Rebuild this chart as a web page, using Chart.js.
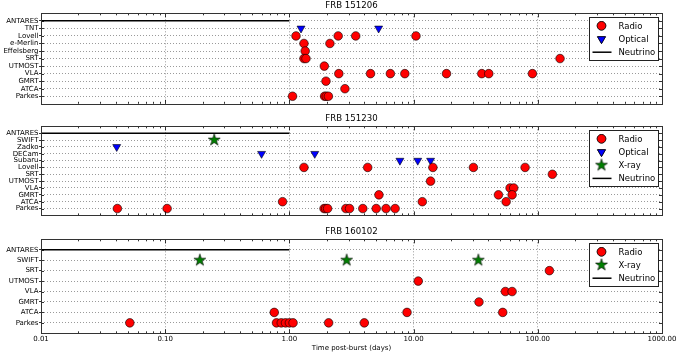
<!DOCTYPE html>
<html><head><meta charset="utf-8">
<script src="https://cdn.jsdelivr.net/npm/chart.js@4.4.1/dist/chart.umd.min.js"></script>
<style>
html,body{margin:0;padding:0;background:#fff;}
body{width:680px;height:357px;position:relative;overflow:hidden;}
.p{position:absolute;left:0;}
canvas{display:block;}
</style></head><body>
<div class="p" style="top:0px"><canvas id="c1" width="680" height="109"></canvas></div>
<div class="p" style="top:113px"><canvas id="c2" width="680" height="109"></canvas></div>
<div class="p" style="top:226px"><canvas id="c3" width="680" height="131"></canvas></div>
<script>
// ---------------- DATA ----------------
const xTickValues = [0.01, 0.1, 1, 10, 100, 1000];
const xTitle = 'Time post-burst (days)';
const neutrinoWindow = [0.01, 1.0];   // ANTARES window (days)

// FRB 151206
const p1Title = 'FRB 151206';
const p1Cats = ['ANTARES','TNT','Lovell','e-Merlin','Effelsberg','SRT','UTMOST','VLA','GMRT','ATCA','Parkes'];
const p1Radio = [
  ['Lovell',1.13],['Lovell',2.47],['Lovell',3.42],['Lovell',10.45],
  ['e-Merlin',1.31],['e-Merlin',2.12],
  ['Effelsberg',1.34],
  ['SRT',1.31],['SRT',1.36],['SRT',151],
  ['UTMOST',1.91],
  ['VLA',2.5],['VLA',4.5],['VLA',6.5],['VLA',8.5],['VLA',18.4],['VLA',35.4],['VLA',40.3],['VLA',90.5],
  ['GMRT',1.97],
  ['ATCA',2.80],
  ['Parkes',1.06],['Parkes',1.92],['Parkes',1.98],['Parkes',2.06]
];
const p1Optical = [['TNT',1.24],['TNT',5.23]];

// FRB 151230
const p2Title = 'FRB 151230';
const p2Cats = ['ANTARES','SWIFT','Zadko','DECam','Subaru','Lovell','SRT','UTMOST','VLA','GMRT','ATCA','Parkes'];
const p2Radio = [
  ['Lovell',1.31],['Lovell',4.27],['Lovell',14.3],['Lovell',30.3],['Lovell',79],
  ['SRT',131],
  ['UTMOST',13.7],
  ['VLA',59.8],['VLA',64],
  ['GMRT',5.26],['GMRT',48.2],['GMRT',62.1],
  ['ATCA',0.881],['ATCA',11.75],['ATCA',55.6],
  ['Parkes',0.0412],['Parkes',0.1036],['Parkes',1.90],['Parkes',1.96],['Parkes',2.03],
  ['Parkes',2.85],['Parkes',3.05],['Parkes',3.9],['Parkes',5.0],['Parkes',6.0],['Parkes',7.1]
];
const p2Optical = [['Zadko',0.0407],['DECam',0.597],['DECam',1.60],['Subaru',7.76],['Subaru',10.8],['Subaru',13.7]];
const p2Xray = [['SWIFT',0.248]];

// FRB 160102
const p3Title = 'FRB 160102';
const p3Cats = ['ANTARES','SWIFT','SRT','UTMOST','VLA','GMRT','ATCA','Parkes'];
const p3Radio = [
  ['SRT',124],
  ['UTMOST',10.9],
  ['VLA',54.8],['VLA',62.1],
  ['GMRT',33.6],
  ['ATCA',0.755],['ATCA',8.85],['ATCA',52.2],
  ['Parkes',0.0519],['Parkes',0.787],['Parkes',0.86],['Parkes',0.93],['Parkes',1.0],['Parkes',1.07],
  ['Parkes',2.07],['Parkes',4.01]
];
const p3Xray = [['SWIFT',0.190],['SWIFT',2.89],['SWIFT',33.2]];

// ---------------- STYLE ----------------
const FONT = '"DejaVu Sans", Verdana, sans-serif';
Chart.defaults.font.family = FONT;
Chart.defaults.color = '#000';
const RED = '#ff0000', BLUE = '#0000ff', GREEN = '#008000';

function makeStar(R) {
  const s = Math.ceil(R * 2 + 3);
  const c = document.createElement('canvas');
  c.width = c.height = s;
  const g = c.getContext('2d');
  const cx = s / 2, cy = s / 2, r = R * 0.381966;
  g.beginPath();
  for (let i = 0; i < 10; i++) {
    const a = -Math.PI / 2 + i * Math.PI / 5;
    const rr = i % 2 ? r : R;
    const px = cx + rr * Math.cos(a), py = cy + rr * Math.sin(a);
    i ? g.lineTo(px, py) : g.moveTo(px, py);
  }
  g.closePath();
  g.fillStyle = GREEN; g.fill();
  g.lineWidth = 0.6; g.strokeStyle = '#000'; g.stroke();
  return c;
}
const STAR = makeStar(6.3);

const STYLES = {
  Radio:   {pointStyle:'circle', pointRadius:4.3, pointBackgroundColor:RED, pointBorderColor:'#000', pointBorderWidth:0.6},
  Optical: {pointStyle:'triangle', pointRotation:180, pointRadius:4.6, pointBackgroundColor:BLUE, pointBorderColor:'#000', pointBorderWidth:0.6},
  'X-ray': {pointStyle:STAR, pointRadius:6, pointBackgroundColor:GREEN, pointBorderColor:'#000', pointBorderWidth:0.6}
};

function toPoints(pairs, cats) {
  return pairs.map(([tel, d]) => ({x: d, y: cats.indexOf(tel)}));
}

// legend box drawn inside the axes (matplotlib style)
function drawLegendMarker(ctx, kind, x, y) {
  ctx.save();
  if (kind === 'Neutrino') {
    ctx.strokeStyle = '#000'; ctx.lineWidth = 1.5;
    ctx.beginPath(); ctx.moveTo(x - 9, y); ctx.lineTo(x + 10, y); ctx.stroke();
  } else if (kind === 'X-ray') {
    ctx.drawImage(STAR, x - STAR.width / 2, y - STAR.height / 2);
  } else {
    const st = STYLES[kind];
    Chart.helpers.drawPoint(ctx, {pointStyle: st.pointStyle, rotation: st.pointRotation || 0,
      radius: st.pointRadius, borderWidth: st.pointBorderWidth}, x, y);
    ctx.fillStyle = st.pointBackgroundColor; ctx.strokeStyle = st.pointBorderColor;
    ctx.lineWidth = st.pointBorderWidth;
    ctx.beginPath();
    if (st.pointStyle === 'circle') {
      ctx.arc(x, y, st.pointRadius, 0, Math.PI * 2);
    } else {
      const R = st.pointRadius;
      for (let i = 0; i < 3; i++) {
        const a = Math.PI / 2 + i * 2 * Math.PI / 3;
        const px = x + R * Math.cos(a), py = y + R * Math.sin(a);
        i ? ctx.lineTo(px, py) : ctx.moveTo(px, py);
      }
      ctx.closePath();
    }
    ctx.fill(); ctx.stroke();
  }
  ctx.restore();
}

function framePlugin(cats, entries) {
  return {
    id: 'frameAndLegend',
    afterDatasetsDraw(chart) {
      const {ctx, chartArea: a, scales: {x, y}} = chart;
      ctx.save();
      // inward ticks
      ctx.strokeStyle = '#000'; ctx.lineWidth = 0.8;
      ctx.beginPath();
      for (let d = 0.01; d < 1000; d *= 10) {
        for (let k = 1; k <= 9; k++) {
          const v = +(k * d).toPrecision(3);
          const px = Math.round(x.getPixelForValue(v)) + 0.5;
          const L = k === 1 ? 4 : 2;
          ctx.moveTo(px, a.bottom); ctx.lineTo(px, a.bottom - L);
          ctx.moveTo(px, a.top); ctx.lineTo(px, a.top + L);
        }
      }
      cats.forEach((c, i) => {
        const py = Math.round(y.getPixelForValue(i)) + 0.5;
        ctx.moveTo(a.left, py); ctx.lineTo(a.left + 3, py);
        ctx.moveTo(a.right, py); ctx.lineTo(a.right - 3, py);
      });
      ctx.stroke();
      // frame
      ctx.strokeStyle = '#333'; ctx.lineWidth = 1;
      ctx.strokeRect(Math.round(a.left) + 0.5, Math.round(a.top) + 0.5,
        Math.round(a.right) - Math.round(a.left), Math.round(a.bottom) - Math.round(a.top));
      // legend
      const bx = Math.round(a.right - 73) + 0.5, by = Math.round(a.top + 3.5) + 0.5;
      const step = 13.2, pad = 8.3;
      const bh = Math.round(pad * 2 + step * (entries.length - 1));
      ctx.fillStyle = '#fff'; ctx.fillRect(bx, by, 69, bh);
      ctx.strokeStyle = '#222'; ctx.lineWidth = 1; ctx.strokeRect(bx, by, 69, bh);
      ctx.font = '8.5px ' + FONT; ctx.textBaseline = 'middle'; ctx.textAlign = 'left';
      entries.forEach((e, i) => {
        const cy = by + pad + i * step;
        drawLegendMarker(ctx, e, bx + 12, cy);
        ctx.fillStyle = '#000';
        ctx.fillText(e, bx + 29, cy + 0.5);
      });
      ctx.restore();
    }
  };
}

function makePanel(id, title, cats, series, showX) {
  const n = cats.length;
  const datasets = [];
  const entries = [];
  series.forEach(([name, pairs]) => {
    datasets.push(Object.assign({label: name, data: toPoints(pairs, cats), showLine: false}, STYLES[name]));
    entries.push(name);
  });
  datasets.push({label: 'Neutrino',
    data: neutrinoWindow.map(v => ({x: v, y: cats.indexOf('ANTARES')})),
    showLine: true, borderColor: '#000', borderWidth: 1.5, pointRadius: 0});
  entries.push('Neutrino');

  new Chart(document.getElementById(id), {
    type: 'scatter',
    data: {datasets},
    options: {
      responsive: false, animation: false,
      layout: {padding: {left: 0, right: 18, top: 0, bottom: showX ? 0 : 1.5}},
      plugins: {
        legend: {display: false}, tooltip: {enabled: false},
        title: {display: true, text: title, fullSize: false, color: '#000',
          font: {size: 8.6, weight: 'normal', family: FONT}, padding: {top: 1, bottom: 2}}
      },
      scales: {
        x: {
          type: 'logarithmic', min: 0.01, max: 1000,
          afterBuildTicks: s => { s.ticks = xTickValues.map(v => ({value: v})); },
          afterFit: s => { s.height = showX ? 23.7 : 0; s.paddingLeft = 0; s.paddingRight = 0; },
          ticks: {display: showX, autoSkip: false, maxRotation: 0, padding: 1.5,
            font: {size: 7, family: FONT}, color: '#000', callback: v => Number(v).toFixed(2)},
          grid: {color: '#9a9a9a', lineWidth: 1, drawTicks: false},
          border: {display: false, dash: [1, 2]},
          title: {display: showX, text: xTitle, color: '#000', font: {size: 7, family: FONT},
            padding: {top: 0, bottom: 4.5}}
        },
        y: {
          type: 'linear', reverse: true, min: -1, max: n,
          afterBuildTicks: s => { s.ticks = cats.map((c, i) => ({value: i})); },
          afterFit: s => { s.width = 41; },
          ticks: {autoSkip: false, padding: 0.5, font: {size: 7, family: FONT}, color: '#000',
            callback: v => cats[v] ?? ''},
          grid: {color: '#9a9a9a', lineWidth: 1, drawTicks: true, tickLength: 2, tickColor: '#000', tickWidth: 0.8},
          border: {display: false, dash: [1, 2]}
        }
      }
    },
    plugins: [framePlugin(cats, entries)]
  });
}

makePanel('c1', p1Title, p1Cats, [['Radio', p1Radio], ['Optical', p1Optical]], false);
makePanel('c2', p2Title, p2Cats, [['Radio', p2Radio], ['Optical', p2Optical], ['X-ray', p2Xray]], false);
makePanel('c3', p3Title, p3Cats, [['Radio', p3Radio], ['X-ray', p3Xray]], true);
</script>
</body></html>
